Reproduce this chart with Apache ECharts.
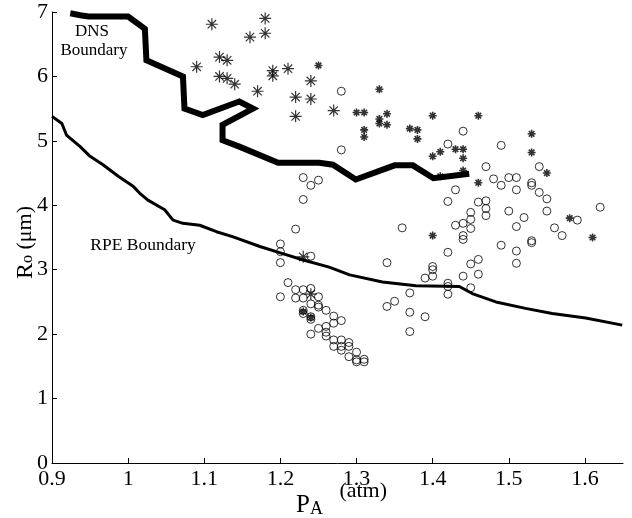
<!DOCTYPE html>
<html>
<head>
<meta charset="utf-8">
<script src="https://cdn.jsdelivr.net/npm/echarts@6.0.0/dist/echarts.min.js"></script>
<style>
  html, body { margin: 0; padding: 0; background: #fff; }
  #chart { width: 632px; height: 518px; }
</style>
</head>
<body>
<div id="chart"></div>
<script>
// axis ticks
const xTicks = [0.9, 1, 1.1, 1.2, 1.3, 1.4, 1.5, 1.6];
const yTicks = [0, 1, 2, 3, 4, 5, 6, 7];

// DNS boundary (thick line)
const dnsX = [0.924, 0.937, 0.948, 1.0, 1.022, 1.024, 1.072, 1.074, 1.098, 1.146, 1.164, 1.124, 1.124, 1.146, 1.197, 1.251, 1.269, 1.299, 1.350, 1.374, 1.401, 1.448];
const dnsY = [6.98, 6.95, 6.93, 6.93, 6.74, 6.25, 6.00, 5.50, 5.40, 5.61, 5.50, 5.25, 5.01, 4.91, 4.66, 4.66, 4.63, 4.40, 4.62, 4.62, 4.42, 4.49];

// RPE boundary (thin line)
const rpeX = [0.9, 0.913, 0.919, 0.937, 0.950, 0.967, 0.987, 1.007, 1.015, 1.026, 1.048, 1.059, 1.072, 1.094, 1.116, 1.138, 1.173, 1.203, 1.230, 1.264, 1.291, 1.334, 1.378, 1.435, 1.452, 1.483, 1.522, 1.557, 1.601, 1.649];
const rpeY = [5.38, 5.27, 5.09, 4.91, 4.76, 4.63, 4.45, 4.29, 4.19, 4.08, 3.93, 3.77, 3.72, 3.69, 3.59, 3.51, 3.36, 3.25, 3.15, 3.04, 2.92, 2.81, 2.75, 2.74, 2.63, 2.50, 2.40, 2.32, 2.25, 2.14];

// circles
const circles = [
  [1.28, 5.77], [1.28, 4.86], [1.23, 4.43], [1.24, 4.31], [1.25, 4.39], [1.23, 4.09], [1.22, 3.63],
  [1.20, 3.40], [1.20, 3.28], [1.20, 3.11], [1.24, 3.21],
  [1.21, 2.80], [1.20, 2.58], [1.22, 2.69], [1.23, 2.69], [1.24, 2.71], [1.22, 2.56], [1.23, 2.56],
  [1.25, 2.58], [1.24, 2.47], [1.25, 2.45], [1.25, 2.42], [1.26, 2.37], [1.23, 2.37], [1.23, 2.32],
  [1.24, 2.27], [1.24, 2.23], [1.24, 2.00], [1.25, 2.09], [1.26, 2.12], [1.26, 2.03], [1.26, 1.97],
  [1.27, 2.28], [1.27, 2.17], [1.28, 2.21], [1.27, 1.91], [1.27, 1.81], [1.28, 1.91], [1.28, 1.81],
  [1.28, 1.75], [1.29, 1.87], [1.29, 1.81], [1.29, 1.65], [1.30, 1.72], [1.30, 1.60], [1.30, 1.57],
  [1.31, 1.61], [1.31, 1.57],
  [1.34, 3.11], [1.36, 3.65], [1.37, 2.64], [1.35, 2.51], [1.34, 2.43], [1.37, 2.34], [1.39, 2.27],
  [1.37, 2.04], [1.40, 3.05], [1.40, 3.00], [1.40, 2.90], [1.39, 2.87], [1.42, 2.79], [1.42, 2.74],
  [1.42, 2.62], [1.44, 2.90], [1.45, 3.09], [1.46, 3.16], [1.46, 2.93], [1.45, 2.72], [1.42, 3.27],
  [1.44, 5.15], [1.42, 4.95], [1.49, 4.93], [1.47, 4.60], [1.54, 4.60], [1.48, 4.41], [1.49, 4.31],
  [1.50, 4.43], [1.51, 4.43], [1.51, 4.24], [1.53, 4.35], [1.53, 4.31], [1.54, 4.20], [1.55, 4.10],
  [1.55, 3.91], [1.52, 3.81], [1.50, 3.91], [1.51, 3.67], [1.56, 3.65], [1.57, 3.53], [1.59, 3.77],
  [1.62, 3.97], [1.49, 3.38], [1.51, 3.29], [1.51, 3.10], [1.53, 3.45], [1.53, 3.42],
  [1.43, 4.24], [1.42, 4.06], [1.46, 4.05], [1.47, 4.07], [1.47, 3.95], [1.47, 3.84], [1.45, 3.89],
  [1.45, 3.78], [1.45, 3.64], [1.43, 3.69], [1.44, 3.72], [1.44, 3.53], [1.44, 3.47]
];

// asterisks, large ones (left group)
const starsBig = [
  [1.11, 6.81], [1.18, 6.90], [1.18, 6.67], [1.16, 6.61], [1.09, 6.15], [1.12, 6.30], [1.13, 6.25],
  [1.12, 6.00], [1.13, 5.97], [1.14, 5.88], [1.17, 5.77], [1.19, 6.09], [1.19, 6.01], [1.21, 6.12],
  [1.24, 5.93], [1.22, 5.68], [1.24, 5.65], [1.22, 5.38], [1.27, 5.47], [1.23, 3.20], [1.24, 2.62]
];

// asterisks, small ones
const starsSmall = [
  [1.25, 6.17], [1.30, 5.44], [1.31, 5.44], [1.33, 5.80], [1.31, 5.17], [1.31, 5.06], [1.33, 5.34],
  [1.34, 5.42], [1.33, 5.27], [1.34, 5.25], [1.37, 5.19], [1.38, 5.17], [1.38, 5.03], [1.40, 5.39],
  [1.46, 5.39], [1.40, 4.76], [1.41, 4.83], [1.43, 4.87], [1.44, 4.87], [1.44, 4.73], [1.44, 4.54],
  [1.41, 4.45], [1.46, 4.35], [1.53, 5.11], [1.53, 4.82], [1.55, 4.50], [1.58, 3.80], [1.61, 3.50],
  [1.40, 3.53], [1.24, 2.26], [1.23, 2.35]
];

const FONT = '"Liberation Serif", "Times New Roman", serif';
const star = 'path://M10,0L10,20M0,10L20,10M3,3L17,17M3,17L17,3';

let chart = echarts.init(document.getElementById('chart'));
let option = {
  backgroundColor: '#fff',
  animation: false,
  grid: { left: 52, right: 9, top: 12, bottom: 55, containLabel: false, outerBoundsMode: 'none' },
  xAxis: {
    type: 'value',
    min: 0.9,
    max: 1.65,
    interval: 0.1,
    name: '{p|P}{a|A}{t| (atm)}',
    nameLocation: 'middle',
    nameGap: 17,
    nameMoveOverlap: false,
    nameTextStyle: {
      rich: {
        p: { fontFamily: FONT, fontSize: 25, color: '#000', lineHeight: 38, verticalAlign: 'bottom', padding: [0, 0, 0, 8] },
        a: { fontFamily: FONT, fontSize: 18, color: '#000', lineHeight: 12, verticalAlign: 'bottom', padding: [0, 11, 0, 0] },
        t: { fontFamily: FONT, fontSize: 22, color: '#000', lineHeight: 24, verticalAlign: 'top' }
      }
    },
    splitLine: { show: false },
    axisLine: { onZero: false, lineStyle: { color: '#000', width: 1 } },
    axisTick: { inside: true, length: 5, customValues: xTicks, lineStyle: { color: '#000' } },
    axisLabel: { customValues: xTicks, margin: 5, color: '#000', fontFamily: FONT, fontSize: 22 }
  },
  yAxis: {
    type: 'value',
    min: 0,
    max: 7,
    interval: 1,
    name: '{r|R}{s|o}{t| (μm)}',
    nameLocation: 'middle',
    nameRotate: 90,
    nameGap: 16,
    nameMoveOverlap: false,
    nameTextStyle: {
      padding: [0, 10, 0, 0],
      rich: {
        r: { fontFamily: FONT, fontSize: 24, color: '#000', lineHeight: 22, verticalAlign: 'top' },
        s: { fontFamily: FONT, fontSize: 16, color: '#000', lineHeight: 12, verticalAlign: 'bottom' },
        t: { fontFamily: FONT, fontSize: 22, color: '#000', lineHeight: 22, verticalAlign: 'top' }
      }
    },
    splitLine: { show: false },
    axisLine: { show: true, onZero: false, lineStyle: { color: '#000', width: 1 } },
    axisTick: { inside: true, length: 5, customValues: yTicks, lineStyle: { color: '#000' } },
    axisLabel: { customValues: yTicks, margin: 4, color: '#000', fontFamily: FONT, fontSize: 22 }
  },
  graphic: [
    { type: 'text', x: 92, y: 32, style: { text: 'DNS', font: '17px ' + FONT, fill: '#000', align: 'center', verticalAlign: 'middle' } },
    { type: 'text', x: 94, y: 51, style: { text: 'Boundary', font: '17px ' + FONT, fill: '#000', align: 'center', verticalAlign: 'middle' } },
    { type: 'text', x: 143, y: 245, style: { text: 'RPE Boundary', font: '17.5px ' + FONT, fill: '#000', align: 'center', verticalAlign: 'middle' } }
  ],
  series: [
    {
      name: 'RPE Boundary',
      type: 'line',
      showSymbol: false,
      lineStyle: { color: '#000', width: 3 },
      data: rpeX.map((x, i) => [x, rpeY[i]])
    },
    {
      name: 'DNS Boundary',
      type: 'line',
      showSymbol: false,
      lineStyle: { color: '#000', width: 6, join: 'miter' },
      data: dnsX.map((x, i) => [x, dnsY[i]])
    },
    {
      type: 'scatter',
      symbol: 'circle',
      symbolSize: 8,
      itemStyle: { color: 'rgba(0,0,0,0)', borderColor: '#000', borderWidth: 1 },
      data: circles
    },
    {
      type: 'scatter',
      symbol: star,
      symbolSize: 12,
      itemStyle: { color: 'rgba(0,0,0,0)', borderColor: '#000', borderWidth: 1.2 },
      data: starsBig
    },
    {
      type: 'scatter',
      symbol: star,
      symbolSize: 8,
      itemStyle: { color: 'rgba(0,0,0,0)', borderColor: '#000', borderWidth: 1.6 },
      data: starsSmall
    }
  ]
};
chart.setOption(option);
</script>
</body>
</html>
